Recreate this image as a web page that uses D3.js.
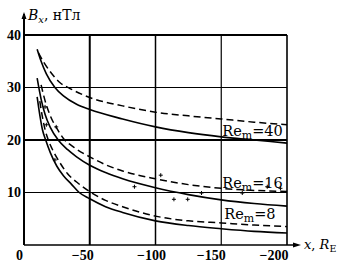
<!DOCTYPE html>
<html><head><meta charset="utf-8">
<script src="https://cdn.jsdelivr.net/npm/d3@7"></script>
<style>html,body{margin:0;padding:0;background:#fff;}</style>
</head><body>
<svg id="c" width="342" height="268"></svg>
<script>
// ---- data ----
const xTicks = [0, -50, -100, -150, -200];
const xTickLabels = ["0", "\u221250", "\u2212100", "\u2212150", "\u2212200"];
const yTicks = [10, 20, 30, 40];
const yTickLabels = ["10", "20", "30", "40"];

const re40Solid = [[-10,37.3],[-13,35.0],[-17,32.6],[-23.5,30],[-30,28.4],[-40,26.8],[-50,25.8],[-75,24],[-100,22.5],[-125,21.4],[-150,20.6],[-175,20],[-200,19.4]];
const re40Dashed = [[-11,36.6],[-15,34.8],[-20,33],[-27,31],[-35,29.8],[-50,28.1],[-75,26.5],[-100,25.3],[-125,24.6],[-150,24],[-175,23.4],[-200,22.9]];
const re16Solid = [[-10,31.8],[-13,27.8],[-16,24.9],[-20,22.4],[-26,20.0],[-33,18.2],[-40,16.8],[-50,15.2],[-62,13.8],[-75,12.6],[-100,10.9],[-125,9.6],[-150,8.6],[-175,7.9],[-200,7.4]];
const re16Dashed = [[-13,30.5],[-16,27.5],[-20,24.6],[-25,22.2],[-30,20.3],[-38,18.6],[-50,16.8],[-62,15.3],[-75,14.1],[-100,12.6],[-125,11.5],[-150,10.8],[-175,10.4],[-200,10.2]];
const re8Solid = [[-10,28.2],[-12,24.8],[-14,22],[-16.5,20],[-20,17.6],[-25,15],[-30,13.2],[-36,11.6],[-42,10],[-50,8.8],[-62,7.3],[-75,6.2],[-100,4.6],[-125,3.7],[-150,3.1],[-175,2.6],[-200,2.3]];
const re8Dashed = [[-12,27.4],[-14,24.4],[-16,22],[-18.5,20],[-22,18],[-27,15.8],[-33,13.6],[-40,12],[-51,10],[-62,8.5],[-75,7.3],[-100,5.5],[-125,4.6],[-150,4.2],[-175,3.8],[-200,3.5]];
const obsPoints = [[-16,26.3],[-24.5,22.5],[-17,22.9],[-23.5,16.2],[-84,11.1],[-104,13.3],[-114,8.7],[-124.5,8.7],[-135,9.9],[-166,9.9],[-185,11.1],[-195,10.8]];
const curveLabels = [
  {name: "Re", sub: "m", rest: "=40", at: [-150, 20]},
  {name: "Re", sub: "m", rest: "=16", at: [-150, 10]},
  {name: "Re", sub: "m", rest: "=8",  at: [-150, 5]}
];

// ---- drawing ----
const svg = d3.select("#c");
svg.append("rect").attr("width",342).attr("height",268).attr("fill","#fff");
const x = d3.scaleLinear().domain([0,-200]).range([24,287]);
const y = d3.scaleLinear().domain([0,40]).range([245,35]);

const gridW = {10:1.1, 20:2, 30:1.1, 40:2};
svg.selectAll("line.hg").data(yTicks).join("line")
  .attr("x1", x(0)).attr("x2", x(-200))
  .attr("y1", d=>y(d)).attr("y2", d=>y(d))
  .attr("stroke","#000").attr("stroke-width", d=>gridW[d]);
const vW = {"-50":2, "-100":1.5, "-150":1.2, "-200":1.6};
svg.selectAll("line.vg").data(xTicks.slice(1)).join("line")
  .attr("x1", d=>x(d)).attr("x2", d=>x(d))
  .attr("y1", y(40)).attr("y2", y(0))
  .attr("stroke","#000").attr("stroke-width", d=>vW[d]);

// axes
svg.append("line").attr("x1",x(0)).attr("x2",x(0)).attr("y1",y(0)).attr("y2",14)
  .attr("stroke","#000").attr("stroke-width",2);
svg.append("path").attr("d",`M${x(0)},12 L${x(0)-2.5},19 L${x(0)+2.5},19 Z`).attr("fill","#000");
svg.append("line").attr("x1",x(0)).attr("x2",297).attr("y1",y(0)).attr("y2",y(0))
  .attr("stroke","#000").attr("stroke-width",1.6);
svg.append("path").attr("d",`M301,${y(0)} L293,${y(0)-2.5} L293,${y(0)+2.5} Z`).attr("fill","#000");

// tick labels
const tickFont = "'Liberation Serif', 'Times New Roman', serif";
svg.selectAll("text.yt").data(yTicks).join("text")
  .attr("x", 21).attr("y", d=>y(d)+4.5)
  .attr("text-anchor","end").attr("font-family",tickFont).attr("font-weight","bold")
  .attr("font-size",14).text((d,i)=>yTickLabels[i]);
const xShift = [-4.5, -7, -4, -10, -13];
svg.selectAll("text.xt").data(xTicks).join("text")
  .attr("x", (d,i)=>x(d)+xShift[i]).attr("y", 260)
  .attr("text-anchor","middle").attr("font-family",tickFont).attr("font-weight","bold")
  .attr("font-size",14).text((d,i)=>xTickLabels[i]);

// axis titles
const lblFont = "'DejaVu Serif', serif";
const yt = svg.append("text").attr("x",28).attr("y",20).attr("font-family",lblFont).attr("font-size",14);
yt.append("tspan").attr("font-style","italic").text("B");
yt.append("tspan").attr("font-style","italic").attr("font-size",10).attr("dy",3).text("x");
yt.append("tspan").attr("dy",-3).text(", нТл");
const xt = svg.append("text").attr("x",304).attr("y",249).attr("font-family",lblFont).attr("font-size",13);
xt.append("tspan").attr("font-style","italic").text("x");
xt.append("tspan").text(", ");
xt.append("tspan").attr("font-style","italic").text("R");
xt.append("tspan").attr("font-size",9.5).attr("dy",3).text("E");

// curves
const line = d3.line().x(d=>x(d[0])).y(d=>y(d[1])).curve(d3.curveMonotoneX);
const series = [
  {d: re40Solid, dash: null}, {d: re40Dashed, dash: "7,4"},
  {d: re16Solid, dash: null}, {d: re16Dashed, dash: "7,4"},
  {d: re8Solid, dash: null}, {d: re8Dashed, dash: "7,4"}
];
svg.selectAll("path.curve").data(series).join("path")
  .attr("d", s=>line(s.d)).attr("fill","none").attr("stroke","#000")
  .attr("stroke-width", s=> s.dash ? 1.5 : 1.6)
  .attr("stroke-dasharray", s=>s.dash);

// observation points (small crosses)
svg.selectAll("path.pt").data(obsPoints).join("path")
  .attr("d", d=>{const px=x(d[0]), py=y(d[1]); return `M${px-2},${py} H${px+2} M${px},${py-2} V${py+2}`;})
  .attr("stroke","#000").attr("stroke-width",1);

// curve labels
const lblOff = [[1,-4],[1,-5],[3,0]];
curveLabels.forEach((c,i)=>{
  const t = svg.append("text").attr("x", x(c.at[0])+lblOff[i][0]).attr("y", y(c.at[1])+lblOff[i][1])
    .attr("font-family",lblFont).attr("font-size",14.5);
  t.append("tspan").text(c.name);
  t.append("tspan").attr("font-size",11).attr("dy",3).text(c.sub);
  t.append("tspan").attr("dy",-3).text(c.rest);
});
</script>
</body></html>
